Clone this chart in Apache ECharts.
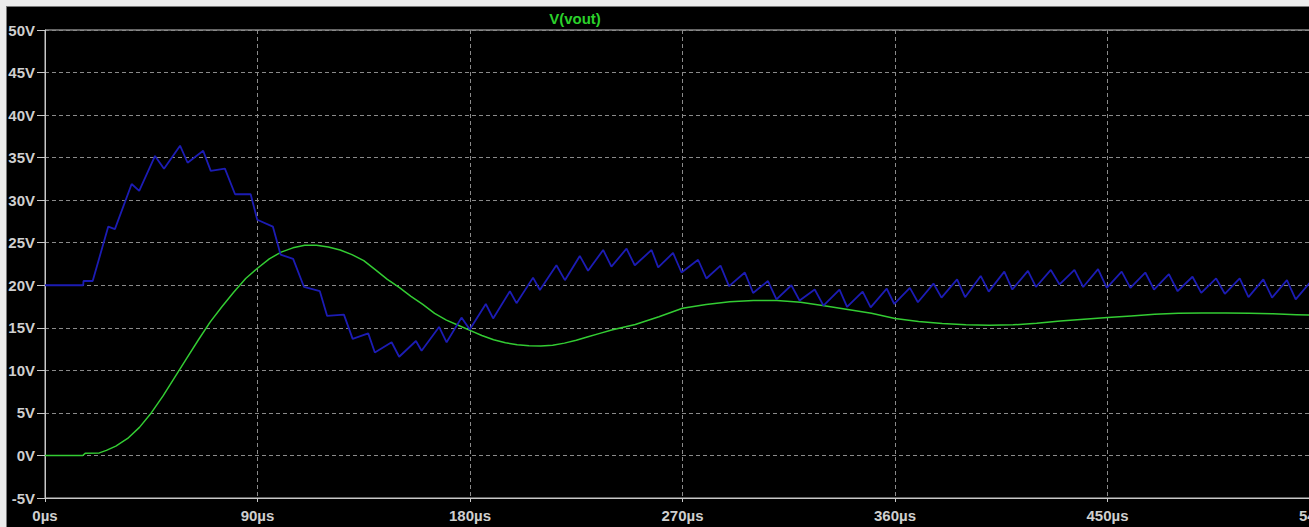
<!DOCTYPE html>
<html>
<head>
<meta charset="utf-8">
<script src="https://cdn.jsdelivr.net/npm/echarts@6/dist/echarts.min.js"></script>
<style>
  html, body { margin: 0; padding: 0; background: #000; }
  #chart { width: 1309px; height: 527px; }
</style>
</head>
<body>
<div id="chart"></div>
<script>
// Time axis (µs) and voltage axis settings
const xTicks = [0, 90, 180, 270, 360, 450, 540];
const yTicks = [-5, 0, 5, 10, 15, 20, 25, 30, 35, 40, 45, 50];

// V(vout): filtered output voltage
const greenT = [0,16,17,23,26,
  30,35,40,45,50,55,60,65,70,75,80,85,90,95,100,105,110,115,120,125,130,135,140,145,150,155,160,165,170,175,180,185,190,195,200,205,210,215,220,225,230,235,240,
  250,260,270,280,290,300,310,320,330,340,350,360,370,380,390,400,410,420,430,440,450,460,470,480,490,500,510,520,530,540];
const greenV = [0,0,0.25,0.3,0.6,
  1.1,2.0,3.3,5.0,7.0,9.2,11.4,13.6,15.7,17.5,19.2,20.8,22.0,23.1,23.9,24.4,24.7,24.7,24.5,24.15,23.6,22.9,21.8,20.7,19.75,18.7,17.75,16.7,15.9,15.3,14.7,14.1,13.6,13.25,13.0,12.9,12.85,12.95,13.2,13.55,13.95,14.35,14.75,
  15.4,16.3,17.3,17.75,18.05,18.2,18.2,18.0,17.6,17.15,16.7,16.1,15.75,15.5,15.35,15.3,15.35,15.55,15.8,16.0,16.2,16.4,16.6,16.7,16.75,16.75,16.7,16.65,16.55,16.45];

// Switched node voltage with ripple (vertices of the waveform)
const blueT = [0,16.2,16.3,20.2,26.8,29.6,36.7,39.9,46.6,50.4,57.2,60.4,67.0,70.2,76.2,80.5,87.1,89.9,96.5,99.8,
  105.1,109.7,116.4,119.5,126.6,130.3,136.9,139.7,146.8,150.0,157.1,159.5,166.9,170.1,176.4,179.9,186.7,189.8,196.9,199.7,
  206.7,209.6,216.6,220.2,226.5,230.0,236.4,239.9,246.3,249.8,256.9,259.7,266.0,269.6,276.6,280.1,286.1,289.7,296.4,299.9,
  306.2,309.8,316.1,319.6,326.0,329.7,336.5,339.7,346.3,349.7,356.5,359.7,366.3,369.7,376.3,379.7,386.3,389.7,396.3,399.7,
  406.3,409.7,416.3,419.7,426.0,429.7,436.0,439.7,446.0,449.7,456.0,459.7,466.0,469.7,476.0,479.7,486.0,489.7,496.0,499.7,
  506.0,509.7,516.0,519.7,526.0,529.7,536.0,539.7];
const blueV = [20,20,20.5,20.5,26.9,26.6,31.9,31.1,35.2,33.7,36.4,34.4,35.8,33.45,33.7,30.7,30.7,27.7,26.9,23.6,
  23.1,19.8,19.3,16.4,16.55,13.7,14.35,12.1,13.3,11.6,13.45,12.3,15.1,13.3,16.2,14.8,17.8,16.1,19.3,17.9,
  20.9,19.45,22.35,20.6,23.45,21.7,24.15,22.2,24.3,22.35,24.15,22.1,23.8,21.5,23.0,20.8,22.3,19.9,21.5,19.1,
  20.5,18.35,20.0,18.2,19.5,17.6,19.5,17.45,19.25,17.4,19.6,17.8,19.7,18.0,20.2,18.55,20.7,18.6,21.1,19.25,
  21.6,19.5,21.7,19.8,21.8,20.1,21.8,19.8,21.9,19.7,21.6,19.7,21.5,19.5,21.3,19.3,21.0,19.1,20.8,19.0,
  20.8,18.6,20.7,18.55,20.6,18.35,20.4,18.4];

const zip = (a, b) => a.map((t, i) => [t, b[i]]);

const labelFont = {
  color: '#cfcfcf',
  fontFamily: 'Liberation Sans, Arial, sans-serif',
  fontWeight: 'bold',
  fontSize: 15
};
const gridDash = { color: '#8a8a8a', type: [4, 3], width: 1 };

const chart = echarts.init(document.getElementById('chart'), null, { renderer: 'svg' });
chart.setOption({
  animation: false,
  backgroundColor: '#000',
  grid: {
    // the time axis runs on past the right edge of the window (540µs sits just beyond it)
    left: 45, top: 30, right: -11, bottom: 29,
    containLabel: false, outerBoundsMode: 'none',
    show: true, borderColor: '#c8c8c8', borderWidth: 1, backgroundColor: '#000'
  },
  xAxis: {
    type: 'value',
    min: xTicks[0], max: xTicks[xTicks.length - 1], interval: 90,
    axisLine: { show: true, onZero: false, lineStyle: { color: '#c8c8c8' } },
    axisTick: { show: true, length: 4, lineStyle: { color: '#c8c8c8' } },
    axisLabel: Object.assign({ margin: 10, showMaxLabel: true, showMinLabel: true,
      formatter: v => v + 'µs' }, labelFont),
    splitLine: { show: true, lineStyle: gridDash }
  },
  yAxis: {
    type: 'value',
    min: yTicks[0], max: yTicks[yTicks.length - 1], interval: 5,
    axisLine: { show: true, onZero: false, lineStyle: { color: '#c8c8c8' } },
    axisTick: { show: true, length: 8, lineStyle: { color: '#c8c8c8' } },
    axisLabel: Object.assign({ margin: 10, formatter: v => v + 'V' }, labelFont),
    splitLine: { show: true, lineStyle: gridDash }
  },
  graphic: [
    { type: 'rect', shape: { x: 0, y: 0, width: 1309, height: 6 }, style: { fill: '#ececec' }, z: 100 },
    { type: 'rect', shape: { x: 0, y: 0, width: 6, height: 527 }, style: { fill: '#ececec' }, z: 100 },
    { type: 'line', shape: { x1: 6, y1: 6.5, x2: 1309, y2: 6.5 }, style: { stroke: '#7a7a7a', lineWidth: 1 }, z: 100 },
    { type: 'line', shape: { x1: 6.5, y1: 6, x2: 6.5, y2: 527 }, style: { stroke: '#7a7a7a', lineWidth: 1 }, z: 100 },
    { type: 'text', z: 100,
      style: { text: 'V(vout)', x: 575, y: 18, align: 'center', verticalAlign: 'middle',
               font: 'bold 15px Liberation Sans, Arial, sans-serif', fill: '#2bd12b' } }
  ],
  series: [
    { name: 'V(vout)', type: 'line', data: zip(greenT, greenV), showSymbol: false,
      lineStyle: { color: '#33cc33', width: 1.5 }, z: 3 },
    { name: 'V(sw)', type: 'line', data: zip(blueT, blueV), showSymbol: false,
      lineStyle: { color: '#1c1cb4', width: 1.8 }, z: 4 }
  ]
});
</script>
</body>
</html>
